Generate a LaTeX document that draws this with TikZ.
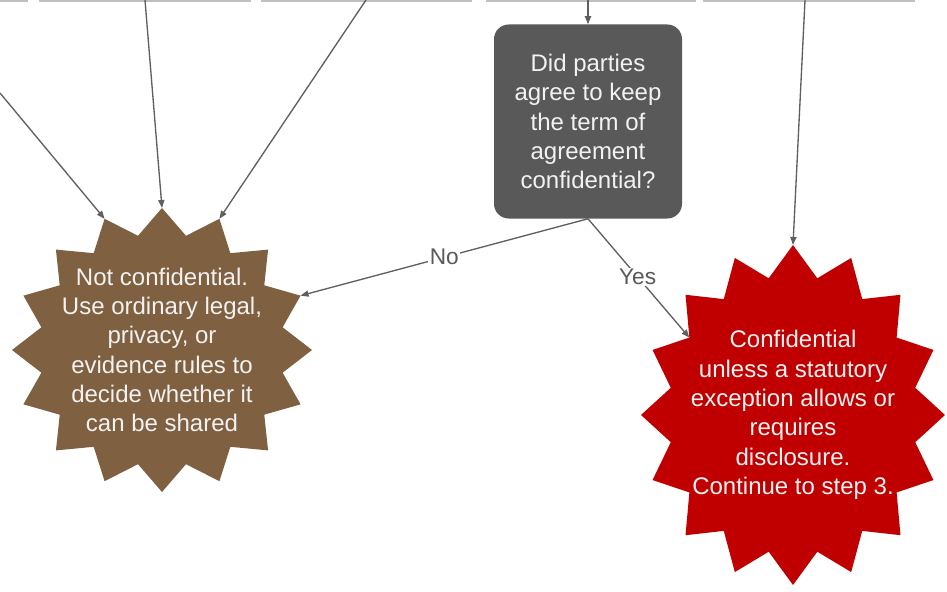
\documentclass[tikz,border=0pt]{standalone}
\usepackage{fontspec}
\setmainfont{Liberation Sans}
\usetikzlibrary{arrows.meta,calc}

\definecolor{boxgray}{HTML}{595959}
\definecolor{linegray}{HTML}{5F5F5F}
\definecolor{rulegray}{HTML}{BFBFBF}
\definecolor{starbrown}{HTML}{7F6040}
\definecolor{starred}{HTML}{C00000}
\definecolor{paletext}{HTML}{F2F2F2}

% burst outline: name, centre x, centre y, x radius, y radius
% defines (name), (name-o0..15) outer tips and (name-i0..15) notches
\newcommand\burstpoints[5]{%
  \coordinate (#1) at (#2,#3);
  \foreach \k in {0,...,15}{
    \coordinate (#1-o\k) at ($(#1)+({#4*cos(90+22.5*\k)},{-#5*sin(90+22.5*\k)})$);
    \coordinate (#1-i\k) at ($(#1)+({0.82*#4*cos(101.25+22.5*\k)},{-0.82*#5*sin(101.25+22.5*\k)})$);
  }%
}
\newcommand\burstfill[2]{%
  \fill[#2] (#1-o0) -- (#1-i0) foreach \k in {1,...,15} { -- (#1-o\k) -- (#1-i\k) } -- cycle;
}

\begin{document}
\begin{tikzpicture}[x=0.75pt,y=-0.75pt,
  bodytext/.style={text=paletext, align=center, font=\fontsize{18}{22}\selectfont, inner sep=0pt},
  question/.style={bodytext, fill=boxgray, rounded corners=11pt,
    minimum width=141pt, minimum height=145.5pt},
  flow/.style={draw=linegray, line width=1pt, -{Triangle[length=6pt,width=4.6pt]}},
  lbl/.style={fill=white, text=boxgray, font=\fontsize{17}{20}\selectfont, inner sep=1pt},
  topedge/.style={draw=rulegray, line width=1.2pt}
]
\useasboundingbox (0,0) rectangle (947,592);

% bottoms of the boxes above, cut at the top edge
\draw[topedge] (0,0.8) -- (28,0.8);
\draw[topedge] (39,0.8) -- (251,0.8);
\draw[topedge] (261,0.8) -- (472,0.8);
\draw[topedge] (486,0.8) -- (696,0.8);
\draw[topedge] (703,0.8) -- (915,0.8);

% incoming connector ends
\coordinate (inA) at (0,93);
\coordinate (inB) at (145,0);
\coordinate (inC) at (366,0);
\coordinate (inD) at (588,0);
\coordinate (inE) at (805,0);

% bursts
\burstpoints{L}{162}{350}{150}{142}
\burstpoints{R}{793}{415}{152}{170}
\burstfill{L}{starbrown}
\burstfill{R}{starred}

\node[bodytext] (Ltext) at (L) {Not confidential.\\Use ordinary legal,\\privacy, or\\evidence rules to\\decide whether it\\can be shared};
\node[bodytext] (Rtext) at (R) {Confidential\\unless a statutory\\exception allows or\\requires\\disclosure.\\Continue to step 3.};

% question box
\node[question] (q) at (588,121.5) {Did parties\\agree to keep\\the term of\\agreement\\confidential?};

% connectors
\draw[flow] (inA) -- (L-o1);
\draw[flow] (inB) -- (L-o0);
\draw[flow] (inC) -- (L-o15);
\draw[flow] (inD) -- (q.north);
\draw[flow] (inE) -- (R-o0);
\draw[flow] (q.south) -- node[lbl, pos=0.5] (no) {No} (L-o13);
\draw[flow] (q.south) -- node[lbl, pos=0.49] (yes) {Yes} (R-i2);
\end{tikzpicture}
\end{document}
